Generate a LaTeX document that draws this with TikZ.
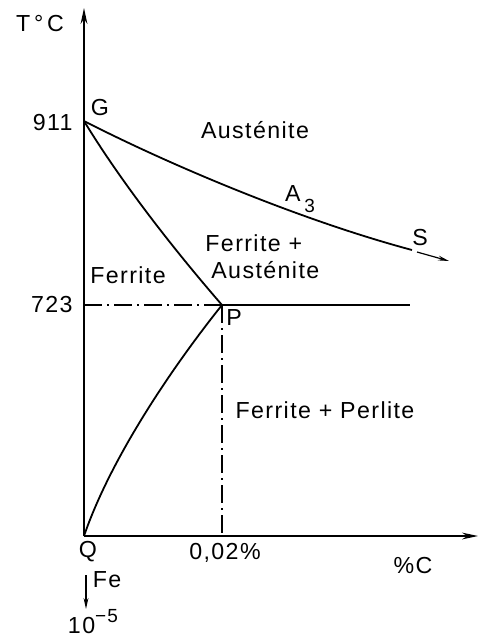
\documentclass[tikz,border=0pt]{standalone}
\usepackage{fontspec}
\setmainfont{Liberation Sans}[LetterSpace=6]
\usetikzlibrary{calc,arrows.meta}

\tikzset{
  phase/.style={line width=0.9pt},
  axis/.style={line width=0.7pt,-{Stealth[length=8pt,width=3.4pt]}},
  thinarrow/.style={line width=0.6pt,-{Stealth[length=5.5pt,width=2.4pt]}},
  dashdot/.style={line width=0.6pt,dash pattern=on 9pt off 2.5pt on 1pt off 2.5pt},
  lbl/.style={font=\fontsize{11.6}{13}\selectfont,inner sep=0pt},
}

\begin{document}
\begin{tikzpicture}[x=0.5pt,y=-0.5pt]
    \useasboundingbox (0,0) rectangle (486,639);
    % points
    \coordinate (Q) at (84,536);
    \coordinate (G) at (84,121);
    \coordinate (P) at (222,305);
    \coordinate (Send) at (412,250);
    \coordinate (Pend) at (410,305);
    \coordinate (Ytop) at (84,8);
    \coordinate (Xend) at (478,536);
    \coordinate (Y723) at (84,305);
    \coordinate (X002) at (222,536);
    \coordinate (Sa) at (417,252);
    \coordinate (Sb) at (449,261);
    \coordinate (Fea) at (86,575);
    \coordinate (Feb) at (86,609);
    % axes
    \draw[axis] (Q) -- (Ytop);
    \draw[axis] (Q) -- (Xend);
    % lines of the diagram
    \draw[phase] (G) .. controls (170,165) and (300,220) .. (Send);
    \draw[phase] (G) .. controls (120,180) and (170,245) .. (P);
    \draw[phase] (Q) .. controls (110,460) and (170,370) .. (P);
    \draw[phase] (P) -- (Pend);
    \draw[dashdot] (Y723) -- (P);
    \draw[dashdot] (P) -- (X002);
    \draw[thinarrow] (Sa) -- (Sb);
    \draw[thinarrow] (Fea) -- (Feb);
    % labels
    \node[lbl] (tc) at (40,24) {T\,°\,C};
    \node[lbl,anchor=east] (t911) at (73,123) {911};
    \node[lbl,anchor=east] (t723) at (73,305) {723};
    \node[lbl] (lG) at (100,108) {G};
    \node[lbl] (lP) at (234,318) {P};
    \node[lbl] (lQ) at (88,552) {Q};
    \node[lbl] (lS) at (420,238) {S};
    \node[lbl] (lA) at (300,199) {A\,\raisebox{-0.9ex}{\fontsize{9.5}{9.5}\selectfont 3}};
    \node[lbl] (aust) at (255,130) {Austénite};
    \node[lbl,anchor=west] (fa1) at (205,243) {Ferrite +};
    \node[lbl,anchor=west] (fa2) at (211,270) {Austénite};
    \node[lbl] (ferr) at (128,275) {Ferrite};
    \node[lbl] (fp) at (325,410) {Ferrite + Perlite};
    \node[lbl] (pct) at (225,553) {0,02\%};
    \node[lbl] (pc) at (413,566) {\%C};
    \node[lbl] (fe) at (107,580) {Fe};
    \node[lbl,anchor=south] (tenm) at (93,634) {10\raisebox{0.9ex}{\fontsize{9.5}{9.5}\selectfont −5}};
\end{tikzpicture}
\end{document}
